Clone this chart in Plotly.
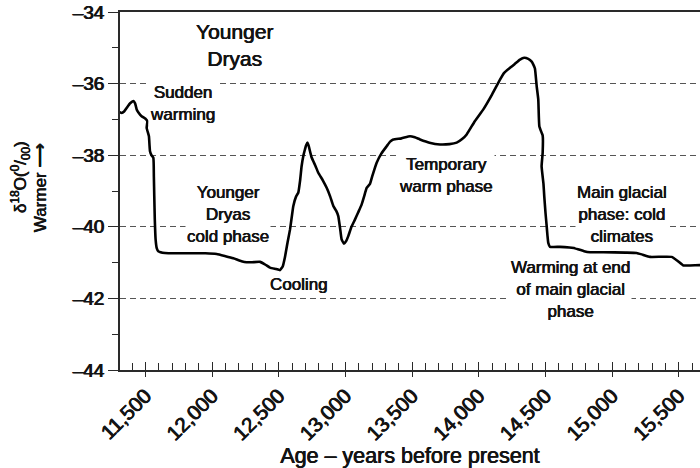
import plotly.graph_objects as go

# Age (years before present) and delta-18O values
age = [11305, 11321, 11340, 11359, 11385, 11409, 11422, 11434, 11450, 11471,
       11500, 11514, 11509, 11526, 11530, 11534, 11545, 11559, 11563, 11566,
       11570, 11576, 11585, 11596, 11646, 11800, 11950, 12034, 12100, 12159,
       12220, 12259, 12300, 12359, 12400, 12434, 12480, 12509, 12530, 12546,
       12565, 12584, 12600, 12609, 12630, 12646, 12660, 12671, 12685, 12696,
       12705, 12716, 12725, 12734, 12745, 12759, 12775, 12796, 12830, 12859,
       12885, 12909, 12930, 12946, 12960, 12971, 12989, 13005, 13021, 13045,
       13071, 13095, 13121, 13140, 13159, 13184, 13200, 13234, 13270, 13309,
       13335, 13359, 13420, 13484, 13520, 13559, 13630, 13709, 13780, 13834,
       13875, 13909, 13970, 14034, 14100, 14159, 14190, 14234, 14270, 14309,
       14340, 14371, 14395, 14409, 14421, 14434, 14446, 14454, 14471, 14479,
       14479, 14471, 14485, 14491, 14500, 14509, 14515, 14521, 14534, 14609,
       14680, 14734, 14790, 14834, 14934, 15100, 15184, 15230, 15284, 15446,
       15490, 15534, 15584, 15659, 15720]
d18o = [-36.80, -36.82, -36.78, -36.68, -36.55, -36.49, -36.55, -36.72, -36.82, -36.91,
        -36.98, -37.05, -37.24, -37.47, -37.70, -37.89, -38.00, -38.07, -38.60, -39.14,
        -39.80, -40.35, -40.60, -40.68, -40.73, -40.74, -40.74, -40.76, -40.82, -40.88,
        -40.96, -40.99, -40.99, -40.98, -41.06, -41.14, -41.18, -41.21, -41.10, -40.85,
        -40.45, -40.08, -39.65, -39.42, -39.15, -39.05, -38.70, -38.31, -38.00, -37.84,
        -37.72, -37.65, -37.75, -37.89, -38.05, -38.17, -38.30, -38.49, -38.70, -38.91,
        -39.15, -39.42, -39.55, -39.70, -40.05, -40.35, -40.47, -40.40, -40.26, -40.00,
        -39.80, -39.60, -39.38, -39.15, -38.91, -38.80, -38.60, -38.21, -37.95, -37.75,
        -37.62, -37.56, -37.53, -37.47, -37.50, -37.56, -37.65, -37.70, -37.69, -37.65,
        -37.55, -37.42, -37.05, -36.72, -36.30, -35.89, -35.70, -35.56, -35.45, -35.33,
        -35.28, -35.31, -35.38, -35.47, -35.58, -36.07, -36.44, -37.19, -37.37, -37.45,
        -37.93, -38.31, -38.80, -39.15, -39.60, -39.98, -40.25, -40.45, -40.56, -40.56,
        -40.58, -40.61, -40.68, -40.71, -40.71, -40.72, -40.73, -40.78, -40.84, -40.84,
        -40.95, -41.08, -41.08, -41.07, -41.07]

x_tickvals = [11500, 12000, 12500, 13000, 13500, 14000, 14500, 15000, 15500]
x_ticktext = ["11,500", "12,000", "12,500", "13,000", "13,500", "14,000", "14,500", "15,000", "15,500"]
y_tickvals = [-44, -42, -40, -38, -36, -34]
y_ticktext = ["\u201344", "\u201342", "\u201340", "\u201338", "\u201336", "\u201334"]

labels = ["Younger<br>Dryas", "Sudden<br>warming", "Younger<br>Dryas<br>cold phase",
          "Cooling", "Temporary<br>warm phase", "Main glacial<br>phase: cold<br>climates",
          "Warming at end<br>of main glacial<br>phase"]
label_x = [12171, 11774, 12118, 12651, 13751, 15071, 14691]
label_y = [-34.91, -36.56, -39.66, -41.61, -38.57, -39.66, -41.75]
label_size = [21, 17, 17, 17, 17, 17, 17]

y_title_lines = ["\u03b4<sup>18</sup>O(<sup>0</sup>/<sub>00</sub>)", "Warmer \u27f6"]
x_title = "Age \u2013 years before present"

FONT = "Liberation Sans, Arial, Helvetica, sans-serif"
INK = "#141414"
AX = "#2a2a2a"
HEAVY = "0.35px 0 0 #141414, -0.35px 0 0 #141414"
HEAVIER = "0.5px 0 0 #141414, -0.5px 0 0 #141414"

fig = go.Figure()
fig.add_trace(go.Scatter(x=age, y=d18o, mode="lines",
                         line=dict(color="#000000", width=2.6, shape="spline", smoothing=0.4),
                         hoverinfo="skip", showlegend=False))
# invisible helper trace for the tick overlay axis
fig.add_trace(go.Scatter(x=[age[0]], y=[d18o[0]], xaxis="x2", mode="markers",
                         marker=dict(opacity=0), hoverinfo="skip", showlegend=False))

for t, x, y, s in zip(labels, label_x, label_y, label_size):
    fig.add_annotation(x=x, y=y, text=t, showarrow=False, xanchor="center", yanchor="middle",
                       font=dict(family=FONT, size=s, color=INK, shadow=HEAVY),
                       bgcolor="white", borderpad=1)

# two-line y-axis title, rotated
for t, px, py in zip(y_title_lines, [-0.1724, -0.1379], [0.539, 0.508]):
    fig.add_annotation(xref="paper", yref="paper", x=px, y=py, text=t, showarrow=False,
                       textangle=-90, xanchor="center", yanchor="middle",
                       font=dict(family=FONT, size=17, color=INK, shadow=HEAVY))

fig.update_layout(
    width=700, height=468,
    margin=dict(l=120, r=0, t=12, b=98),
    paper_bgcolor="white", plot_bgcolor="white",
    font=dict(family=FONT, color=INK),
    xaxis=dict(range=[11309, 15659], tickvals=x_tickvals, ticktext=x_ticktext,
               tickangle=-45, tickfont=dict(size=20.5, color=INK, shadow=HEAVIER),
               ticks="inside", ticklen=8, tickwidth=1.3, tickcolor=AX,
               minor=dict(dtick=100, tick0=11500, ticks="inside", ticklen=7, tickwidth=1.1, tickcolor=AX),
               showline=True, linecolor=AX, linewidth=1.6, mirror=True,
               showgrid=False, zeroline=False, ticklabelstandoff=4, automargin=False,
               title=dict(text=x_title, font=dict(size=21.5, color=INK, shadow=HEAVY), standoff=2)),
    xaxis2=dict(overlaying="x", matches="x", anchor="y", side="bottom",
                tickvals=x_tickvals, showticklabels=False, ticks="outside", ticklen=6,
                tickwidth=1.3, tickcolor=AX, showline=False, showgrid=False, zeroline=False,
                automargin=False),
    yaxis=dict(range=[-44, -34], tickvals=y_tickvals, ticktext=y_ticktext,
               tickfont=dict(size=19, color=INK, shadow=HEAVIER), ticklabeloverflow="allow",
               ticks="outside", ticklen=10, tickwidth=1.3, tickcolor=AX,
               minor=dict(dtick=1, tick0=-44, ticks="outside", ticklen=6, tickwidth=1.1, tickcolor=AX,
                          showgrid=False),
               showline=True, linecolor=AX, linewidth=1.6,
               showgrid=True, gridcolor="#555555", gridwidth=1, griddash="6px,4px",
               zeroline=False, automargin=False),
)

fig.write_html("out.html", config={"displayModeBar": False},
               post_script="document.body.style.margin='0';")
